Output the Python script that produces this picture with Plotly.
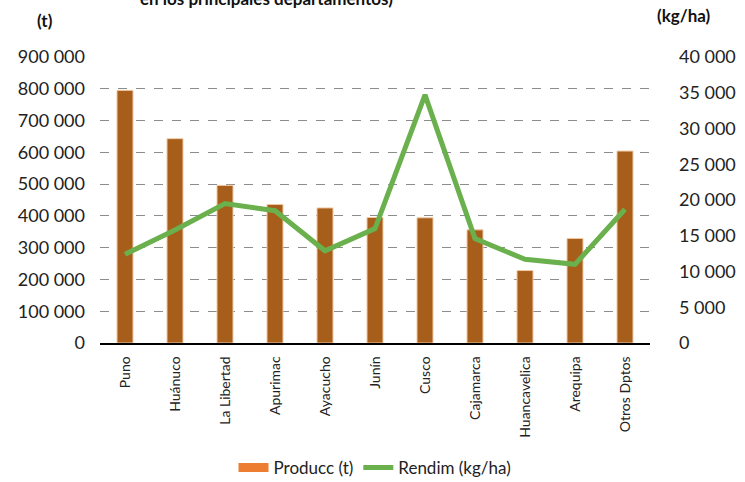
import plotly.graph_objects as go

categories = ["Puno", "Huánuco", "La Libertad", "Apurimac", "Ayacucho", "Junín",
              "Cusco", "Cajamarca", "Huancavelica", "Arequipa", "Otros Dptos"]
produccion = [795000, 643000, 496000, 436000, 425000, 395000, 394000, 356000, 228000, 329000, 604000]
rendimiento = [12400, 15800, 19500, 18500, 12900, 16000, 34700, 14600, 11700, 11000, 18700]

left_ticks = [0, 100000, 200000, 300000, 400000, 500000, 600000, 700000, 800000, 900000]
left_labels = ["0", "100 000", "200 000", "300 000", "400 000", "500 000", "600 000",
               "700 000", "800 000", "900 000"]
right_ticks = [0, 5000, 10000, 15000, 20000, 25000, 30000, 35000, 40000]
right_labels = ["0", "5 000", "10 000", "15 000", "20 000", "25 000", "30 000", "35 000", "40 000"]

FONT = "Lato"

fig = go.Figure()
fig.add_trace(go.Bar(
    x=categories, y=produccion, name="Producc (t)", showlegend=False,
    marker=dict(color="#A65E1A", line=dict(color="#F2C9A5", width=1)),
    width=0.32, yaxis="y",
))
# legend entry for the bars (orange wide swatch as in the reference)
fig.add_trace(go.Scatter(
    x=[None], y=[None], name="Producc (t)", mode="lines",
    line=dict(color="#ED7D31", width=9), showlegend=True, yaxis="y",
))
fig.add_trace(go.Scatter(
    x=categories, y=rendimiento, name="Rendim (kg/ha)", mode="lines",
    line=dict(color="#6AB04C", width=5), yaxis="y2",
))

fig.update_layout(
    width=745, height=482,
    margin=dict(l=100, r=95, t=57, b=139, autoexpand=False),
    paper_bgcolor="white", plot_bgcolor="white",
    font=dict(family=FONT, size=18, color="#222"),
    barmode="overlay",
    xaxis=dict(
        tickangle=-90, tickfont=dict(size=14, color="#222"),
        showline=True, linecolor="#000", linewidth=1.5,
        showgrid=False, ticks="", range=[-0.5, 10.5], automargin=False,
        ticklabelstandoff=6,
    ),
    yaxis=dict(
        range=[0, 900000], tickvals=left_ticks, ticktext=left_labels,
        showgrid=True, gridcolor="#8c8c8c", griddash="dash", gridwidth=1,
        zeroline=False, ticks="", ticklabelstandoff=14, automargin=False,
    ),
    yaxis2=dict(
        range=[0, 40000], tickvals=right_ticks, ticktext=right_labels,
        overlaying="y", side="right", showgrid=False, zeroline=False, ticks="",
        ticklabelstandoff=28, automargin=False,
    ),
    legend=dict(
        orientation="h", x=0.5, xanchor="center", y=-0.437, yanchor="middle",
        font=dict(size=17), itemwidth=30, tracegroupgap=0,
    ),
    showlegend=True,
)

fig.add_annotation(text="<b>en los principales departamentos)</b>", xref="paper", yref="paper",
                   x=0.302, xanchor="center", y=1.0, yshift=59, yanchor="middle",
                   showarrow=False, font=dict(size=17, color="#111"))
fig.add_annotation(text="<b>(t)</b>", xref="paper", yref="paper", x=-0.1, y=1.0, yshift=37,
                   xanchor="center", yanchor="middle", showarrow=False,
                   font=dict(size=17, color="#111"))
fig.add_annotation(text="<b>(kg/ha)</b>", xref="paper", yref="paper", x=1.0, xshift=5,
                   y=1.0, yshift=42, xanchor="left", yanchor="middle", showarrow=False,
                   font=dict(size=17, color="#111"))

fig.write_html("out.html", config={"displayModeBar": False},
               post_script="document.body.style.margin='0';document.body.style.overflow='hidden';")
